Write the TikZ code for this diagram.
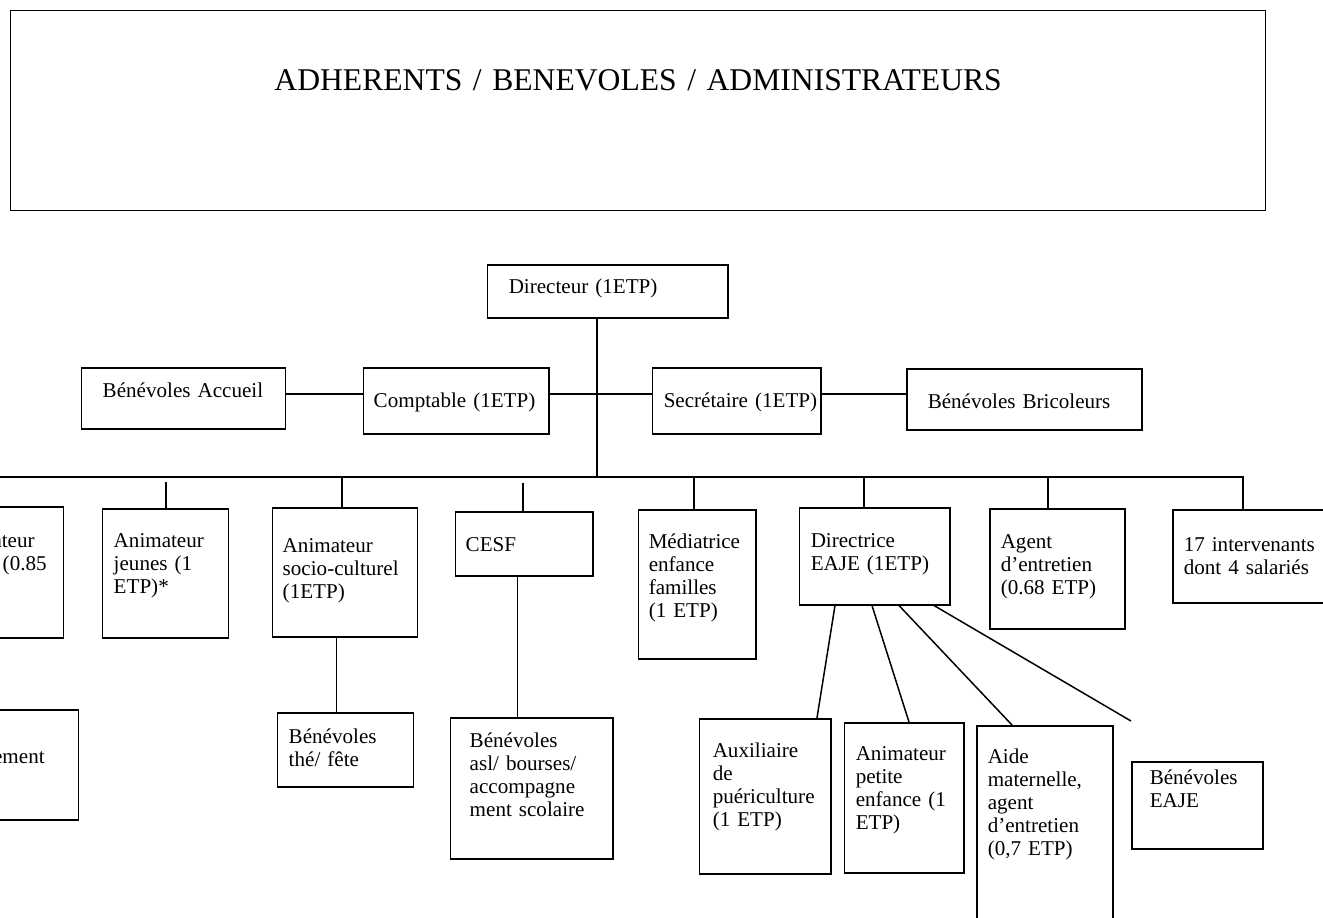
\documentclass[tikz,border=0pt]{standalone}
\usepackage{fontspec}
\setmainfont{Liberation Serif}

\tikzset{
  boite/.style={draw, line width=0.85pt, anchor=north west, inner xsep=0pt, inner ysep=0pt,
    align=left, font=\fontsize{12}{13.1}\selectfont},
  trait/.style={line width=0.85pt},
  morceau/.style={anchor=base east, inner sep=0pt, font=\fontsize{12}{13.1}\selectfont}
}

% nom, x, y, largeur, hauteur, ligne de base, marge, texte (en pixels)
\newcommand{\boite}[8]{%
  \pgfmathsetmacro\boiteL{#4*0.02}
  \pgfmathsetmacro\boiteH{#6*0.02}
  \pgfmathsetmacro\boiteD{(#5-#6)*0.02}
  \pgfmathsetmacro\boiteM{#7*0.02}
  \node[boite, text width=\boiteL cm, text height=\boiteH cm, text depth=\boiteD cm] (#1) at (#2,#3)
    {\leftskip=\boiteM cm\relax #8\par};
}

\begin{document}
\begin{tikzpicture}[x=0.02cm, y=-0.02cm]
  \useasboundingbox (0,0) rectangle (1323,917);
  \clip (0,0) rectangle (1323,917);

  \node[boite, align=center, text width=25.1cm, text height=1.6cm, text depth=2.4cm,
    font=\fontsize{18}{20}\selectfont] (titre) at (10,10)
    {ADHERENTS / BENEVOLES / ADMINISTRATEURS};

  \boite{directeur}{487}{264}{240}{53}{29}{21}{Directeur (1ETP)}
  \boite{accueil}{81}{367}{204}{61}{30}{21}{Bénévoles Accueil}
  \boite{comptable}{363}{367}{185}{66}{40}{10}{Comptable (1ETP)}
  \boite{secretaire}{652}{367}{168}{66}{40}{11}{Secrétaire (1ETP)}
  \boite{bricoleurs}{906}{368}{235}{61}{40}{21}{Bénévoles Bricoleurs}

  \boite{coupe1}{-60}{506}{123}{131}{40}{10}{}
  \boite{coupe2}{-60}{709}{138}{110}{40}{10}{}
  \node[morceau] (coupe1-a) at (35,547) {ateur};
  \node[morceau] (coupe1-b) at (47,570) {(0.85};
  \node[morceau] (coupe2-a) at (45,763) {ement};

  \boite{jeunes}{102}{508}{126}{129}{39}{11}{Animateur\\jeunes (1\\ETP)*}
  \boite{socio}{272}{507}{145}{129}{45}{10}{Animateur\\socio-culturel\\(1ETP)}
  \boite{cesf}{455}{511}{137}{64}{40}{10}{CESF}
  \boite{mediatrice}{638}{509}{117}{149}{39}{10}{Médiatrice\\enfance\\familles\\(1 ETP)}
  \boite{eaje}{799}{507}{150}{97}{40}{11}{Directrice\\EAJE (1ETP)}
  \boite{agent}{989}{508}{135}{120}{40}{11}{Agent\\d’entretien\\(0.68 ETP)}
  \boite{intervenants}{1172}{509}{170}{93}{42}{11}{17 intervenants\\dont 4 salariés}

  \boite{the}{277}{712}{136}{74}{31}{11}{Bénévoles\\thé/ fête}
  \boite{asl}{450}{717}{162}{141}{30}{19}{Bénévoles\\asl/ bourses/\\accompagne\\ment scolaire}
  \boite{auxiliaire}{699}{718}{131}{155}{39}{13}{Auxiliaire\\de\\puériculture\\(1 ETP)}
  \boite{petite}{844}{722}{119}{150}{38}{11}{Animateur\\petite\\enfance (1\\ETP)}
  \boite{aide}{976}{725}{136}{230}{38}{11}{Aide\\maternelle,\\agent\\d’entretien\\(0,7 ETP)}
  \boite{eajeben}{1131}{761}{131}{87}{23}{18}{Bénévoles\\EAJE}

  % liaisons
  \coordinate (jonction) at (597,477);
  \coordinate (axe) at (0,394);
  \draw[trait] (jonction |- directeur.south) -- (jonction);
  \draw[trait] (accueil.east |- axe) -- (comptable.west |- axe);
  \draw[trait] (comptable.east |- axe) -- (secretaire.west |- axe);
  \draw[trait] (secretaire.east |- axe) -- (bricoleurs.west |- axe);

  \coordinate (bus-g) at (-5,477);
  \coordinate (bus-d) at (1243,477);
  \draw[trait] (bus-g) -- (bus-d) -- (bus-d |- intervenants.north);
  \foreach \n/\x/\y in {jeunes/166/482, socio/342/477, cesf/523/483, mediatrice/694/477, eaje/864/477, agent/1048/477} {
    \coordinate (b-\n) at (\x,\y);
    \draw[trait] (b-\n) -- (b-\n |- \n.north);
  }

  \draw[trait] ([xshift=-0.17cm]socio.south) -- ([xshift=-0.17cm]socio.south |- the.north);
  \draw[trait] ([xshift=-0.13cm]cesf.south) -- ([xshift=-0.13cm]cesf.south |- asl.north);

  \coordinate (fin-eaje) at (1131,721);
  \draw[trait] ([xshift=0.72cm]eaje.south west) -- ([xshift=2.36cm]auxiliaire.north west);
  \draw[trait] ([xshift=1.46cm]eaje.south west) -- ([xshift=1.3cm]petite.north west);
  \draw[trait] ([xshift=2cm]eaje.south west) -- ([xshift=0.72cm]aide.north west);
  \draw[trait] ([xshift=2.7cm]eaje.south west) -- (fin-eaje);
\end{tikzpicture}
\end{document}
